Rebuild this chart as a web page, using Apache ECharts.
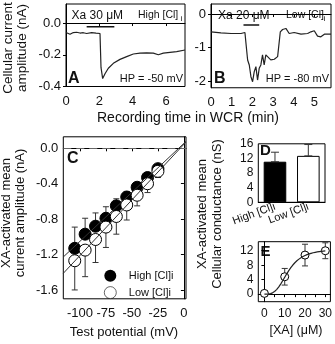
<!DOCTYPE html>
<html>
<head>
<meta charset="utf-8">
<script src="https://cdn.jsdelivr.net/npm/echarts@6/dist/echarts.min.js"></script>
<style>
html, body { margin: 0; padding: 0; background: #fff; }
#chart { width: 335px; height: 344px; }
</style>
</head>
<body>
<div id="chart"></div>
<script>
// A: whole-cell trace, high [Cl]i, HP -50 mV
const timeA = [0, 0.24, 0.44, 0.64, 0.84, 1.04, 1.24, 1.54, 1.8, 2.04, 2.1, 2.2, 2.34, 2.54, 2.84, 3.24, 3.64, 4.04, 4.44, 4.84, 5.24, 5.54, 5.84, 6.24, 6.64, 7.14];
const currentA = [-0.06, -0.071, -0.06, -0.058, -0.063, -0.061, -0.066, -0.06, -0.064, -0.066, -0.28, -0.35, -0.32, -0.285, -0.254, -0.229, -0.212, -0.195, -0.19, -0.188, -0.19, -0.2, -0.19, -0.185, -0.18, -0.17];
const drugA = [1.24, 2.9];

// B: whole-cell trace, low [Cl]i, HP -80 mV
const timeB = [0, 0.48, 0.97, 1.45, 1.64, 1.69, 1.77, 1.85, 1.93, 2.01, 2.09, 2.17, 2.25, 2.33, 2.41, 2.49, 2.57, 2.65, 2.73, 2.89, 3.06, 3.22, 3.3, 3.35, 3.46, 3.54, 3.62, 3.78, 4.02, 4.35, 4.67, 4.83, 4.99, 5.15, 5.31, 5.48, 5.8];
const currentB = [-0.53, -0.56, -0.58, -0.58, -0.55, -0.87, -1.37, -1.52, -1.87, -2.02, -1.72, -1.57, -1.97, -1.62, -1.52, -1.22, -1.52, -1.22, -1.27, -1.37, -1.35, -1.27, -1.32, -0.53, -0.46, -0.5, -0.43, -0.58, -0.55, -0.6, -0.58, -0.53, -0.5, -0.66, -0.68, -0.6, -0.6];
const drugB = [1.57, 2.33];

// C: I-V relation (mean +/- SEM)
const testV = [-105, -95, -85, -75, -65, -55, -45, -35, -25];
const highMean = [-1.13, -0.97, -0.88, -0.79, -0.65, -0.55, -0.44, -0.33, -0.23];
const highErr = [0.24, 0.18, 0.15, 0.13, 0.08, 0.06, 0.05, 0.05, 0.03];
const lowMean = [-1.27, -1.15, -1.03, -0.89, -0.77, -0.64, -0.53, -0.40, -0.26];
const lowErr = [0.33, 0.30, 0.26, 0.23, 0.20, 0.17, 0.12, 0.10, 0.07];

// D: conductance
const groups = ['High [Cl]i', 'Low [Cl]i'];
const condMean = [11.1, 12.7];
const condErr = [2.6, 3.1];

// E: dose response
const xaConc = [0, 10, 20, 30];
const xaMean = [0.2, 4.8, 10.8, 12.0];
const xaErr = [0.7, 2.3, 3.0, 2.2];
// Hill fit parameters (max, EC50, coefficient)
const hillFit = [12.5, 11.7, 3.3];

const FONT = '"Liberation Sans", Arial, sans-serif';

function linFit(xs, ys) {
  const n = xs.length;
  const mx = xs.reduce((a, b) => a + b, 0) / n;
  const my = ys.reduce((a, b) => a + b, 0) / n;
  let sxy = 0, sxx = 0;
  for (let i = 0; i < n; i++) {
    sxy += (xs[i] - mx) * (ys[i] - my);
    sxx += (xs[i] - mx) * (xs[i] - mx);
  }
  const k = sxy / sxx;
  return [k, my - k * mx];
}

function errorBars(capHalf) {
  return function (params, api) {
    const x = api.value(0);
    const p1 = api.coord([x, api.value(1)]);
    const p2 = api.coord([x, api.value(2)]);
    const style = { stroke: '#333', lineWidth: 1, fill: null };
    return {
      type: 'group',
      children: [
        { type: 'line', shape: { x1: p1[0], y1: p1[1], x2: p2[0], y2: p2[1] }, style: style },
        { type: 'line', shape: { x1: p1[0] - capHalf, y1: p1[1], x2: p1[0] + capHalf, y2: p1[1] }, style: style },
        { type: 'line', shape: { x1: p2[0] - capHalf, y1: p2[1], x2: p2[0] + capHalf, y2: p2[1] }, style: style }
      ]
    };
  };
}

function txt(text, x, y, size, extra) {
  const el = {
    type: 'text', x: x, y: y,
    style: { text: text, fontSize: size, fontFamily: FONT, fill: '#111', align: 'left', verticalAlign: 'middle' }
  };
  if (extra) {
    if (extra.rotation) el.rotation = extra.rotation;
    Object.assign(el.style, extra.style || {});
  }
  return el;
}

function valAxis(idx, min, max, labels, size, margin, ticks) {
  return {
    type: 'value', gridIndex: idx, min: min, max: max,
    axisLine: { lineStyle: { color: '#000', width: 1 } },
    axisTick: { inside: false, length: 3, customValues: ticks || labels, lineStyle: { color: '#000' } },
    axisLabel: { customValues: labels, fontSize: size, fontFamily: FONT, color: '#111', margin: margin },
    splitLine: { show: false }
  };
}

const fitHigh = linFit(testV, highMean);
const fitLow = linFit(testV, lowMean);
const vSpan = [-116, 2];
const hillCurve = [];
for (let c = 0; c <= 30; c += 0.5) {
  hillCurve.push([c, hillFit[0] * Math.pow(c, hillFit[2]) / (Math.pow(c, hillFit[2]) + Math.pow(hillFit[1], hillFit[2]))]);
}

const gridStyle = { show: true, borderColor: '#000', borderWidth: 1, containLabel: false };

const yA = valAxis(0, -0.4, 0.12, [-0.4, -0.2, 0], 13, 5);
yA.axisLabel.formatter = v => v.toFixed(1);
const yC = valAxis(2, -1.7, 0.13, [-1.6, -1.2, -0.8, -0.4, 0], 13, 5);
yC.axisLabel.formatter = v => v.toFixed(1);

const chart = echarts.init(document.getElementById('chart'));
chart.setOption({
  animation: false,
  backgroundColor: '#fff',
  grid: [
    Object.assign({ left: 66, top: 4, width: 119, height: 82.5 }, gridStyle),
    Object.assign({ left: 211, top: 4, width: 120, height: 83.75 }, gridStyle),
    Object.assign({ left: 63.3, top: 136.8, width: 122.7, height: 162 }, gridStyle),
    Object.assign({ left: 258.3, top: 143.8, width: 66.7, height: 58.5 }, gridStyle),
    Object.assign({ left: 258.3, top: 241.7, width: 73.4, height: 60 }, gridStyle)
  ],
  xAxis: [
    valAxis(0, 0, 7.14, [0, 2, 4, 6], 13, 8),
    valAxis(1, 0, 5.8, [0, 1, 2, 3, 4, 5], 13, 8),
    valAxis(2, vSpan[0], vSpan[1], [-100, -75, -50, -25, 0], 13, 8),
    {
      type: 'category', gridIndex: 3, data: groups,
      axisLine: { lineStyle: { color: '#000' } }, axisTick: { show: false },
      axisLabel: { interval: 0, rotate: 20, fontSize: 11, fontFamily: FONT, color: '#111', margin: 4 }
    },
    valAxis(4, -3, 32.5, [0, 10, 20, 30], 12, 6, [0, 5, 10, 15, 20, 25, 30])
  ],
  yAxis: [
    yA,
    valAxis(1, -2.2, 0.3, [-2, -1, 0], 13, 5),
    yC,
    valAxis(3, 0, 16, [0, 4, 8, 12, 16], 12, 5),
    valAxis(4, -2.1, 14.5, [0, 4, 8, 12], 12, 5)
  ],
  legend: {
    orient: 'vertical', left: 104, top: 269.7, padding: 0,
    itemWidth: 27, itemHeight: 12, itemGap: 4.6,
    data: [
      { name: 'High [Cl]i', icon: 'circle', itemStyle: { color: '#000', borderWidth: 0 } },
      { name: 'Low [Cl]i', icon: 'circle', itemStyle: { color: '#fff', borderColor: '#000', borderWidth: 0.6 } }
    ],
    textStyle: { fontSize: 11, fontFamily: FONT, color: '#111' },
    selectedMode: false
  },
  series: [
    // A
    { type: 'line', xAxisIndex: 0, yAxisIndex: 0, data: timeA.map((t, i) => [t, currentA[i]]), showSymbol: false, lineStyle: { color: '#222', width: 1.2 } },
    { type: 'line', xAxisIndex: 0, yAxisIndex: 0, data: drugA.map(t => [t, -0.024]), showSymbol: false, lineStyle: { color: '#111', width: 1.5 } },
    // B
    { type: 'line', xAxisIndex: 1, yAxisIndex: 1, data: timeB.map((t, i) => [t, currentB[i]]), showSymbol: false, lineStyle: { color: '#222', width: 1.2 } },
    { type: 'line', xAxisIndex: 1, yAxisIndex: 1, data: drugB.map(t => [t, -0.33]), showSymbol: false, lineStyle: { color: '#111', width: 1.5 } },
    // C fit lines + zero line
    {
      type: 'line', xAxisIndex: 2, yAxisIndex: 2, showSymbol: false,
      data: vSpan.map(v => [v, fitHigh[0] * v + fitHigh[1]]), lineStyle: { color: '#333', width: 1 },
      markLine: { silent: true, symbol: 'none', label: { show: false }, lineStyle: { color: '#666', type: [8, 5], width: 1 }, data: [{ yAxis: 0 }] }
    },
    { type: 'line', xAxisIndex: 2, yAxisIndex: 2, showSymbol: false, data: vSpan.map(v => [v, fitLow[0] * v + fitLow[1]]), lineStyle: { color: '#333', width: 1 } },
    { type: 'custom', xAxisIndex: 2, yAxisIndex: 2, renderItem: errorBars(3), data: testV.map((v, i) => [v, highMean[i], highMean[i] + highErr[i]]) },
    { type: 'scatter', name: 'High [Cl]i', xAxisIndex: 2, yAxisIndex: 2, symbolSize: 12, data: testV.map((v, i) => [v, highMean[i]]), itemStyle: { color: '#000', borderColor: '#000', borderWidth: 1, opacity: 1 } },
    { type: 'custom', xAxisIndex: 2, yAxisIndex: 2, renderItem: errorBars(3), data: testV.map((v, i) => [v, lowMean[i], lowMean[i] - lowErr[i]]) },
    { type: 'scatter', name: 'Low [Cl]i', xAxisIndex: 2, yAxisIndex: 2, symbolSize: 12, data: testV.map((v, i) => [v, lowMean[i]]), itemStyle: { color: '#fff', borderColor: '#000', borderWidth: 1, opacity: 1 } },
    // D
    {
      type: 'bar', xAxisIndex: 3, yAxisIndex: 3, barWidth: 22.6,
      data: condMean.map((m, i) => ({ value: m, itemStyle: { color: i === 0 ? '#000' : '#fff', borderColor: '#000', borderWidth: 1 } }))
    },
    { type: 'custom', xAxisIndex: 3, yAxisIndex: 3, renderItem: errorBars(4), data: condMean.map((m, i) => [i, m, m + condErr[i]]), z: 3 },
    // E
    { type: 'line', xAxisIndex: 4, yAxisIndex: 4, data: hillCurve, showSymbol: false, lineStyle: { color: '#222', width: 1.2 } },
    { type: 'custom', xAxisIndex: 4, yAxisIndex: 4, renderItem: errorBars(3), data: xaConc.map((c, i) => [c, xaMean[i] - xaErr[i], xaMean[i] + xaErr[i]]) },
    { type: 'scatter', xAxisIndex: 4, yAxisIndex: 4, symbolSize: 8, data: xaConc.map((c, i) => [c, xaMean[i]]), itemStyle: { color: '#fff', borderColor: '#000', borderWidth: 1, opacity: 1 } }
  ],
  graphic: [
    // A annotations
    txt('Xa 30 \u03bcM', 71.5, 16, 12),
    txt('High [Cl]', 138, 15, 10.5),
    txt('i', 180.5, 19, 8),
    txt('A', 68, 79, 16, { style: { fontWeight: 'bold' } }),
    txt('HP = -50 mV', 183, 79, 11, { style: { align: 'right' } }),
    // B annotations
    txt('Xa 20 \u03bcM', 218, 16, 12),
    txt('Low [Cl]', 286, 15, 10.5),
    txt('i', 323.5, 19, 8),
    txt('B', 214, 79, 16, { style: { fontWeight: 'bold' } }),
    txt('HP = -80 mV', 329, 79, 11, { style: { align: 'right' } }),
    // panel letters
    txt('C', 67, 159, 16, { style: { fontWeight: 'bold' } }),
    txt('D', 260, 151, 15, { style: { fontWeight: 'bold' } }),
    txt('E', 260.5, 252, 15, { style: { fontWeight: 'bold' } }),
    // axis titles
    txt('Cellular current\namplitude (nA)', 15.5, 48, 13.5, { rotation: Math.PI / 2, style: { align: 'center', lineHeight: 13.5 } }),
    txt('Recording time in WCR (min)', 188, 118, 14, { style: { align: 'center' } }),
    txt('XA-activated mean\ncurrent amplitude (nA)', 13.5, 213, 13, { rotation: Math.PI / 2, style: { align: 'center', lineHeight: 13.5 } }),
    txt('Test potential (mV)', 124, 332, 13, { style: { align: 'center' } }),
    txt('XA-activated mean\nCellular conductance (nS)', 210, 214, 13, { rotation: Math.PI / 2, style: { align: 'center', lineHeight: 15 } }),
    txt('[XA] (\u03bcM)', 296, 331, 12.5, { style: { align: 'center' } })
  ]
});
</script>
</body>
</html>
